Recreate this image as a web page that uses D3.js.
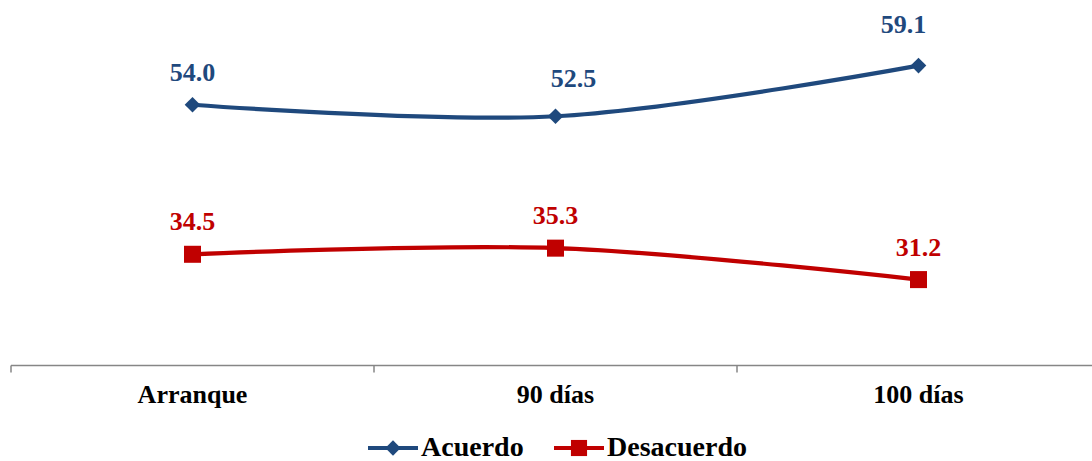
<!DOCTYPE html>
<html>
<head>
<meta charset="utf-8">
<script src="https://cdn.jsdelivr.net/npm/d3@7"></script>
<style>
  html, body { margin: 0; padding: 0; background: #fff; }
  svg { display: block; font-family: "Liberation Serif", "Times New Roman", serif; font-weight: bold; }
</style>
</head>
<body>
<div id="chart"></div>
<script>
// chart data
var categories = ["Arranque", "90 días", "100 días"];
var acuerdo = [54.0, 52.5, 59.1];
var desacuerdo = [34.5, 35.3, 31.2];
var seriesNames = ["Acuerdo", "Desacuerdo"];

var width = 1092, height = 461;
var blue = "#1F497D", red = "#C00000";

var svg = d3.select("#chart").append("svg")
    .attr("width", width)
    .attr("height", height);

// scales
var x = d3.scaleBand().domain(categories).range([11, 1100]).padding(0);
var y = d3.scaleLinear().domain([20, 70]).range([365.5, 365.5 - 50 * 7.67]);
function cx(c) { return x(c) + x.bandwidth() / 2; }

// category axis
var axisY = y(20);
svg.append("line")
    .attr("x1", x.range()[0]).attr("x2", width)
    .attr("y1", axisY).attr("y2", axisY)
    .attr("stroke", "#868686").attr("stroke-width", 1.5);
var bounds = categories.map(function (c) { return x(c); }).concat([x.range()[1]]);
svg.selectAll(".tick-mark").data(bounds).enter().append("line")
    .attr("class", "tick-mark")
    .attr("x1", function (d) { return d; }).attr("x2", function (d) { return d; })
    .attr("y1", axisY).attr("y2", axisY + 7)
    .attr("stroke", "#868686").attr("stroke-width", 1.5);
svg.selectAll(".cat-label").data(categories).enter().append("text")
    .attr("class", "cat-label")
    .attr("x", function (d) { return cx(d); })
    .attr("y", 403)
    .attr("text-anchor", "middle")
    .attr("font-size", "26px")
    .attr("fill", "#000")
    .text(function (d) { return d; });

// lines
var line = d3.line()
    .x(function (d) { return cx(d.cat); })
    .y(function (d) { return y(d.v); })
    .curve(d3.curveCatmullRom.alpha(0));

function toPoints(vals) {
    return vals.map(function (v, i) { return { cat: categories[i], v: v, i: i }; });
}

// label nudges (dx, dy) relative to the default spot above each point
var blueNudge = [[0, 0], [18, -5], [-15, -9]];
var redNudge = [[0, 0], [0, 0], [0, 0]];

function drawSeries(vals, color, shape, nudge) {
    var pts = toPoints(vals);
    svg.append("path")
        .datum(pts)
        .attr("d", line)
        .attr("fill", "none")
        .attr("stroke", color)
        .attr("stroke-width", 4.2);
    var g = svg.append("g");
    g.selectAll("path.mk").data(pts).enter().append("path")
        .attr("class", "mk")
        .attr("transform", function (d) { return "translate(" + cx(d.cat) + "," + y(d.v) + ")"; })
        .attr("d", d3.symbol().type(shape).size(shape === d3.symbolSquare ? 290 : 155))
        .attr("fill", color);
    g.selectAll("text").data(pts).enter().append("text")
        .attr("x", function (d) { return cx(d.cat) + nudge[d.i][0]; })
        .attr("y", function (d) { return y(d.v) - 24 + nudge[d.i][1]; })
        .attr("text-anchor", "middle")
        .attr("font-size", "26px")
        .attr("fill", color)
        .text(function (d) { return d3.format(".1f")(d.v); });
}

drawSeries(acuerdo, blue, d3.symbolDiamond2, blueNudge);
drawSeries(desacuerdo, red, d3.symbolSquare, redNudge);

// legend
var legendItems = [
    { name: seriesNames[0], color: blue, shape: d3.symbolDiamond2, x: 368 },
    { name: seriesNames[1], color: red, shape: d3.symbolSquare, x: 554 }
];
var lg = svg.append("g").attr("class", "legend");
legendItems.forEach(function (it) {
    lg.append("line")
        .attr("x1", it.x).attr("x2", it.x + 50)
        .attr("y1", 448).attr("y2", 448)
        .attr("stroke", it.color).attr("stroke-width", 4.2);
    lg.append("path")
        .attr("transform", "translate(" + (it.x + 25) + ",448)")
        .attr("d", d3.symbol().type(it.shape).size(it.shape === d3.symbolSquare ? 260 : 150))
        .attr("fill", it.color);
    lg.append("text")
        .attr("x", it.x + 53)
        .attr("y", 456)
        .attr("font-size", "28px")
        .attr("fill", "#000")
        .text(it.name);
});
</script>
</body>
</html>
